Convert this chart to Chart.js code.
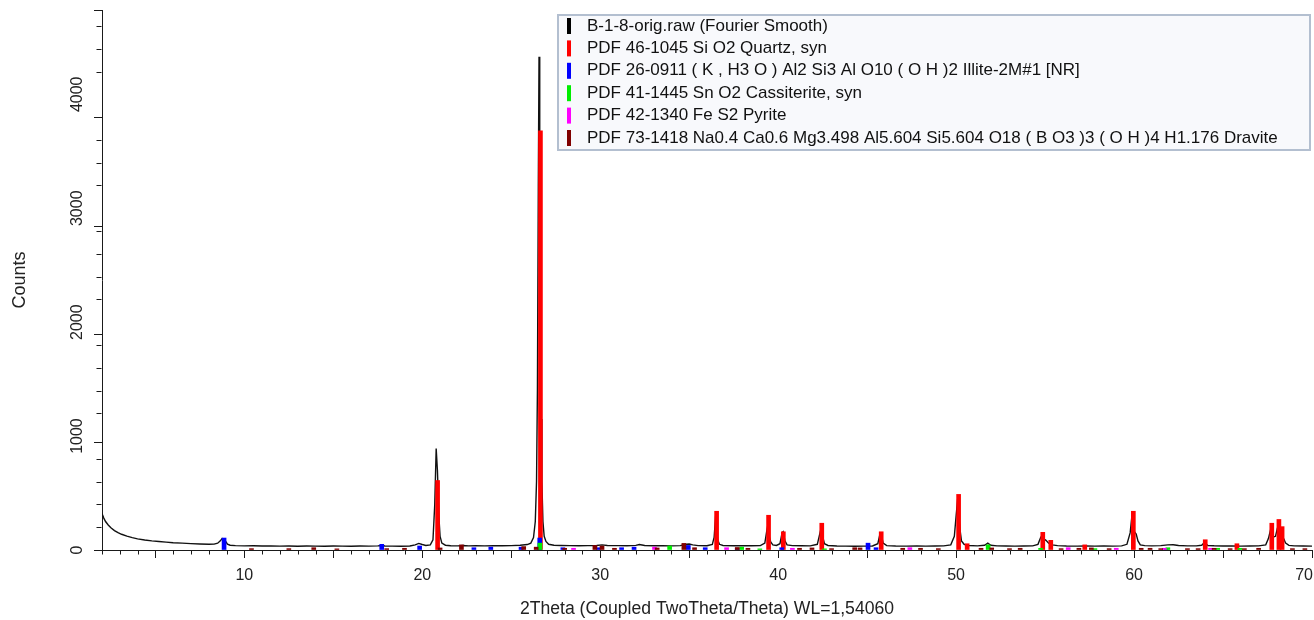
<!DOCTYPE html>
<html>
<head>
<meta charset="utf-8">
<script src="https://cdn.jsdelivr.net/npm/chart.js@4.4.1/dist/chart.umd.min.js"></script>
<style>
  html, body { margin: 0; padding: 0; background: #ffffff; }
  #wrap { width: 1314px; height: 620px; }
</style>
</head>
<body>
<div id="wrap"><canvas id="xrd" width="1314" height="620"></canvas></div>
<script>
// Measured scan (Fourier smoothed): 2Theta in degrees, intensity in counts
const scanTwoTheta = [
  2.0, 2.1, 2.2, 2.35, 2.5, 2.7, 2.9, 3.1, 3.4, 3.7, 4.0, 4.4, 4.8, 5.2, 5.6, 6.0, 6.5, 7.0, 7.5, 8.0,
  8.3, 8.5, 8.65, 8.75, 8.85, 8.95, 9.05, 9.2, 9.5, 10.0, 10.5, 11.0, 11.5, 12.0, 12.5, 13.0, 13.5, 14.0, 14.5, 15.0,
  15.5, 16.0, 16.5, 17.0, 17.5, 17.7, 17.9, 18.3, 18.8, 19.3, 19.6, 19.8, 20.0, 20.2, 20.45, 20.6, 20.7, 20.78, 20.85, 20.93,
  21.0, 21.1, 21.3, 21.6, 22.0, 22.3, 22.6, 23.0, 23.5, 24.0, 24.5, 25.0, 25.5, 25.9, 26.1, 26.25, 26.35, 26.42, 26.47, 26.52,
  26.56, 26.6, 26.64, 26.68, 26.72, 26.78, 26.85, 26.95, 27.1, 27.4, 27.8, 28.3, 28.8, 29.3, 29.8, 30.1, 30.4, 31.0, 31.5, 32.0,
  32.2, 32.5, 33.0, 33.5, 34.0, 34.5, 34.85, 35.0, 35.2, 35.5, 36.0, 36.3, 36.4, 36.47, 36.53, 36.6, 36.7, 36.9, 37.5, 38.0,
  38.5, 39.0, 39.25, 39.35, 39.42, 39.5, 39.58, 39.7, 39.9, 40.1, 40.22, 40.28, 40.38, 40.5, 40.8, 41.3, 41.8, 42.2, 42.35, 42.42,
  42.5, 42.6, 42.8, 43.3, 43.8, 44.3, 44.8, 45.3, 45.6, 45.72, 45.8, 45.9, 46.1, 46.6, 47.2, 47.8, 48.3, 48.8, 49.3, 49.7,
  49.9, 50.0, 50.07, 50.14, 50.22, 50.3, 50.45, 50.7, 51.2, 51.6, 51.78, 51.95, 52.3, 52.8, 53.3, 53.8, 54.3, 54.6, 54.75, 54.83,
  54.95, 55.05, 55.2, 55.4, 55.7, 56.2, 56.8, 57.3, 57.8, 58.3, 58.8, 59.3, 59.6, 59.78, 59.86, 59.93, 60.02, 60.12, 60.22, 60.35,
  60.6, 61.0, 61.5, 61.9, 62.2, 62.5, 63.0, 63.5, 63.8, 63.92, 64.02, 64.15, 64.5, 65.0, 65.5, 66.0, 66.5, 67.0, 67.4, 67.55,
  67.66, 67.75, 67.85, 67.95, 68.05, 68.12, 68.22, 68.32, 68.42, 68.52, 68.7, 69.0, 69.5, 70.0
];
const scanCounts = [
  320, 280, 250, 220, 195, 170, 152, 138, 122, 108, 98, 88, 80, 74, 69, 64, 60, 56, 53, 50,
  52, 60, 80, 100, 98, 75, 52, 42, 38, 36, 37, 35, 36, 34, 35, 33, 35, 34, 33, 35,
  34, 33, 35, 34, 36, 40, 35, 34, 33, 35, 45, 58, 48, 40, 45, 90, 400, 890, 700, 300,
  120, 60, 42, 37, 36, 40, 36, 37, 36, 38, 37, 38, 42, 48, 60, 110, 250, 600, 1400, 3200,
  4330, 3500, 2200, 1150, 600, 250, 120, 75, 50, 42, 40, 38, 37, 38, 40, 45, 39, 38, 37, 41,
  48, 40, 37, 38, 36, 38, 50, 52, 45, 38, 37, 48, 110, 265, 200, 90, 50, 40, 37, 38,
  37, 38, 60, 160, 220, 120, 70, 45, 40, 55, 150, 160, 80, 45, 38, 37, 36, 50, 150, 195,
  120, 55, 40, 35, 34, 33, 34, 35, 55, 140, 130, 60, 38, 35, 34, 35, 34, 35, 36, 45,
  120, 300, 420, 330, 180, 80, 50, 40, 36, 42, 60, 42, 36, 35, 34, 35, 36, 50, 110, 130,
  95, 85, 60, 45, 38, 35, 34, 35, 34, 35, 34, 36, 50, 150, 270, 230, 160, 140, 80, 45,
  38, 36, 38, 45, 46, 40, 36, 36, 42, 60, 55, 40, 37, 35, 36, 34, 35, 36, 45, 100,
  170, 150, 115, 120, 190, 220, 200, 120, 95, 60, 40, 36, 35, 34
];

// Reference stick patterns: line positions (2Theta) and scaled heights (counts)
const quartzPos = [20.86, 26.64, 36.54, 39.46, 40.29, 42.45, 45.79, 50.14, 50.62, 54.87, 55.32, 57.23, 59.96, 64.0, 65.78, 67.74, 68.14, 68.32];
const quartzInt = [610, 3680, 340, 305, 160, 235, 160, 488, 55, 155, 85, 45, 340, 90, 55, 235, 268, 205];

const illitePos = [8.86, 17.72, 19.85, 22.9, 23.85, 25.55, 26.6, 27.9, 29.9, 31.2, 31.9, 34.95, 35.9, 37.7, 40.2, 45.05, 45.5, 61.8];
const illiteInt = [105, 50, 35, 20, 25, 25, 105, 20, 20, 20, 25, 40, 20, 15, 20, 60, 20, 15];

const cassiteritePos = [26.61, 33.9, 37.95, 38.97, 42.6, 51.8, 54.75, 57.8, 61.9, 64.7, 65.95];
const cassiteriteInt = [60, 35, 25, 10, 10, 45, 15, 12, 20, 15, 15];

const pyritePos = [28.5, 33.05, 37.1, 40.8, 47.4, 56.3, 59.0, 61.7, 64.3];
const pyriteInt = [15, 25, 20, 15, 20, 20, 15, 15, 15];

const dravitePos = [10.4, 12.5, 13.9, 15.2, 18.0, 19.0, 21.0, 22.2, 25.7, 26.4, 28.0, 29.7, 30.1, 30.8, 33.2, 34.7, 35.3, 37.7,
  38.3, 41.2, 41.9, 43.0, 44.3, 44.6, 47.0, 48.0, 49.0, 51.4, 52.0, 53.0, 53.6, 55.9, 56.9, 57.6, 58.6, 60.4, 60.9, 61.5,
  63.0, 63.6, 64.5, 65.4, 66.2, 67.0, 68.9, 69.6];
const draviteInt = [12, 12, 20, 10, 12, 15, 18, 45, 30, 25, 15, 40, 35, 15, 18, 58, 20, 22,
  15, 15, 18, 12, 20, 18, 15, 15, 12, 15, 18, 12, 15, 12, 15, 18, 12, 15, 15, 12,
  12, 12, 15, 12, 12, 15, 12, 12];

const xTickLabels = [10, 20, 30, 40, 50, 60, 70];
const yTickLabels = [0, 1000, 2000, 3000, 4000];

const FONT = "'Liberation Sans', Arial, sans-serif";
const TEXT = '#222222';
const AXIS = '#1a1a1a';

const toPoints = (xs, ys) => xs.map((x, i) => ({ x: x, y: ys[i] }));

function sticks(label, pos, val, color, order) {
  return {
    type: 'bar',
    label: label,
    data: toPoints(pos, val),
    backgroundColor: color,
    borderWidth: 0,
    barThickness: 4,
    grouped: false,
    order: order,
    legendColor: color
  };
}

// Minor tick marks and tick labels on both axes
const axisDecor = {
  id: 'axisDecor',
  afterDraw(chart) {
    const ctx = chart.ctx;
    const xs = chart.scales.x, ys = chart.scales.y;
    const base = Math.round(ys.getPixelForValue(0)) + 0.5;
    const left = Math.round(xs.left) - 0.5;
    ctx.save();
    ctx.strokeStyle = AXIS;
    ctx.lineWidth = 1;
    ctx.beginPath();
    for (let v = 2; v <= 70; v++) {
      if (v % 5 === 0) continue;
      const px = Math.round(xs.getPixelForValue(v)) + 0.5;
      ctx.moveTo(px, base);
      ctx.lineTo(px, base + 4);
    }
    for (let v = 200; v <= 4600; v += 200) {
      if (v % 1000 === 0) continue;
      const py = Math.round(ys.getPixelForValue(v)) + 0.5;
      ctx.moveTo(left, py);
      ctx.lineTo(left - 5, py);
    }
    ctx.stroke();

    ctx.fillStyle = TEXT;
    ctx.font = '16px ' + FONT;
    ctx.textAlign = 'center';
    ctx.textBaseline = 'middle';
    yTickLabels.forEach(v => {
      const py = ys.getPixelForValue(v);
      ctx.save();
      ctx.translate(78, py);
      ctx.rotate(-Math.PI / 2);
      ctx.fillText(String(v), 0, 0);
      ctx.restore();
    });
    const edge = chart.width - 1;
    xTickLabels.forEach(v => {
      const txt = String(v);
      const half = ctx.measureText(txt).width / 2;
      let px = xs.getPixelForValue(v);
      if (px + half > edge) px = edge - half;
      ctx.fillText(txt, px, 576);
    });
    ctx.restore();
  }
};

// Boxed phase legend in the upper right of the plot
const phaseLegend = {
  id: 'phaseLegend',
  afterDraw(chart) {
    const ctx = chart.ctx;
    const items = chart.data.datasets.map(d => ({ text: d.label, color: d.legendColor }));
    const box = { x: 558, y: 15, w: 752, h: 135 };
    ctx.save();
    ctx.fillStyle = '#f8f9fc';
    ctx.fillRect(box.x, box.y, box.w, box.h);
    ctx.strokeStyle = '#b3bfd0';
    ctx.lineWidth = 2;
    ctx.strokeRect(box.x, box.y, box.w, box.h);
    ctx.font = '17px ' + FONT;
    ctx.textAlign = 'left';
    ctx.textBaseline = 'middle';
    items.forEach((it, i) => {
      const cy = 26 + i * 22.4;
      ctx.fillStyle = it.color;
      ctx.fillRect(567, cy - 8, 4, 16);
      ctx.fillStyle = '#111111';
      ctx.fillText(it.text, 587, cy);
    });
    ctx.restore();
  }
};

const datasets = [
  {
    type: 'line',
    label: 'B-1-8-orig.raw (Fourier Smooth)',
    data: toPoints(scanTwoTheta, scanCounts),
    borderColor: '#111111',
    borderWidth: 1.4,
    pointRadius: 0,
    tension: 0,
    fill: false,
    order: 6,
    legendColor: '#000000'
  },
  sticks('PDF 46-1045 Si O2 Quartz, syn', quartzPos, quartzInt, '#ff0000', 5),
  sticks('PDF 26-0911 ( K , H3 O ) Al2 Si3 Al O10 ( O H )2 Illite-2M#1 [NR]', illitePos, illiteInt, '#0000ff', 4),
  sticks('PDF 41-1445 Sn O2 Cassiterite, syn', cassiteritePos, cassiteriteInt, '#00ee00', 3),
  sticks('PDF 42-1340 Fe S2 Pyrite', pyritePos, pyriteInt, '#ff00ff', 2),
  sticks('PDF 73-1418 Na0.4 Ca0.6 Mg3.498 Al5.604 Si5.604 O18 ( B O3 )3 ( O H )4 H1.176 Dravite', dravitePos, draviteInt, '#800000', 1)
];

new Chart(document.getElementById('xrd'), {
  type: 'bar',
  data: { datasets: datasets },
  plugins: [axisDecor, phaseLegend],
  options: {
    responsive: false,
    devicePixelRatio: 1,
    animation: false,
    layout: { padding: { left: 0, right: 2, top: 10, bottom: 0 } },
    plugins: { legend: { display: false }, tooltip: { enabled: false } },
    scales: {
      x: {
        type: 'linear',
        min: 2,
        max: 70,
        offset: false,
        afterFit: s => { s.height = 70; s.paddingLeft = 0; s.paddingRight = 0; },
        border: { display: true, color: AXIS, width: 1 },
        grid: { drawOnChartArea: false, offset: false, drawTicks: true, tickLength: 8, tickColor: AXIS, tickWidth: 1 },
        ticks: { stepSize: 5, autoSkip: false, includeBounds: false, maxRotation: 0, display: false },
        title: {
          display: true,
          text: '2Theta (Coupled TwoTheta/Theta) WL=1,54060',
          color: TEXT,
          font: { family: FONT, size: 17.6 },
          padding: { top: 2, bottom: 0 }
        }
      },
      y: {
        type: 'linear',
        min: 0,
        max: 4740,
        afterFit: s => { s.width = 102; },
        border: { display: true, color: AXIS, width: 1 },
        grid: { drawOnChartArea: false, drawTicks: true, tickLength: 8, tickColor: AXIS, tickWidth: 1 },
        ticks: { stepSize: 1000, includeBounds: false, display: false },
        title: {
          display: true,
          text: 'Counts',
          color: TEXT,
          font: { family: FONT, size: 18 },
          padding: { top: 9, bottom: 0 }
        }
      }
    }
  }
});
</script>
</body>
</html>
